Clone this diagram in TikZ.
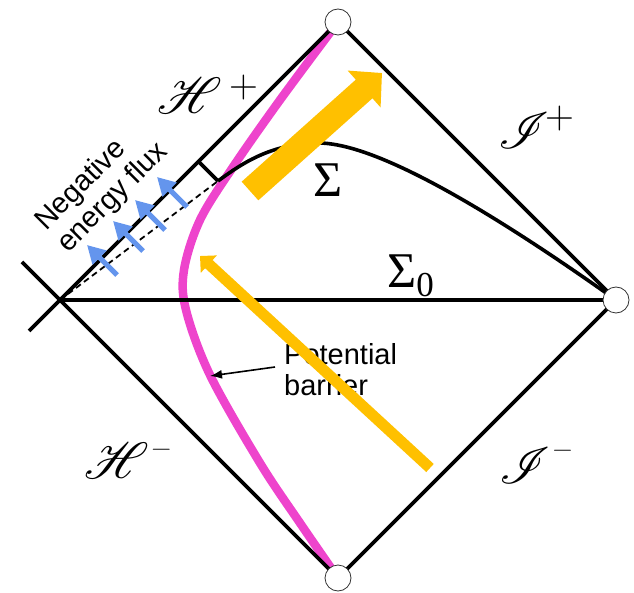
\documentclass[tikz,border=0pt]{standalone}
\usepackage{fontspec}
\usepackage{amsmath,mathrsfs}
\setmainfont{Liberation Sans}
\newfontfamily\greekfont{Liberation Serif}
\newfontfamily\lmfont{Latin Modern Roman}
\DeclareFontFamily{U}{rsfs}{\skewchar\font127 }
\DeclareFontShape{U}{rsfs}{m}{n}{<-6> rsfs5 <6-8> rsfs7 <8-> rsfs10}{}
\usetikzlibrary{arrows.meta,positioning,calc}
\definecolor{PenBarrier}{HTML}{EE44CC}
\definecolor{PenFlux}{HTML}{6495ED}
\definecolor{PenOrange}{HTML}{FFC000}
\definecolor{PenInk}{HTML}{000000}
\newcommand{\futuresign}[2]{\kern#1\raisebox{#2}{\lmfont\fontsize{40}{40}\selectfont +}}
\newcommand{\pastsign}[2]{\kern#1\raisebox{#2}{\lmfont\fontsize{27}{27}\selectfont −}}

\begin{document}
\begin{tikzpicture}[
    x=1pt, y=-1pt,
    edge/.style={draw=PenInk, line width=3.6pt},
    vertex/.style={circle, draw=black!80, line width=0.8pt, fill=white,
      minimum size=26pt, inner sep=0pt},
    barrier/.style={draw=PenBarrier, line width=8.5pt},
    flux/.style={draw=PenFlux, line width=5pt, -{Triangle[length=18pt,width=19pt]}},
    bigflow/.style={draw=PenOrange, line width=25pt, -{Triangle[length=24pt,width=48pt]}},
    smallflow/.style={draw=PenOrange, line width=11pt, -{Triangle[length=12pt,width=23pt]}},
    pointer/.style={-{Latex[length=12pt,width=9pt]}, line width=1.6pt},
    scri/.style={font=\fontsize{51}{51}\selectfont, inner sep=0pt},
    greek/.style={font=\greekfont\fontsize{50}{50}\selectfont, inner sep=0pt},
    sanslabel/.style={font=\fontsize{29}{31}\selectfont, align=left, inner sep=0pt}
  ]
    \useasboundingbox (0,0) rectangle (634,593);

    % corners of the diagram
    \coordinate (top) at (338,22);
    \coordinate (right) at (616,300);
    \coordinate (bottom) at (338,578);
    \coordinate (left) at (60,300);
    \coordinate (hpend) at (29,331);
    \coordinate (hmend) at (22,262);
    \coordinate (corner) at (218,181);
    \coordinate (foot) at (198.5,161.5);
    \coordinate (pb) at (210,376);

    % potential barrier
    \draw[barrier] plot[smooth, tension=0.55] coordinates {(top) (280,100) (233,167)
      (200,220) (184,270) (186,310) (210,375) (260,463) (300,523) (bottom)};

    % boundaries
    \draw[edge] (top) -- (right) -- (bottom);
    \draw[edge] (top) -- (hpend);
    \draw[edge] (bottom) -- (hmend);
    \draw[edge] (left) -- (right);
    \draw[edge] (foot) -- (corner);
    \draw[edge] (corner) .. controls (240,165) and (270,143) .. (320,143)
      .. controls (360,144) and (440,175) .. (right);
    \draw[PenInk, line width=1.8pt, dash pattern=on 6pt off 4pt] (left) -- (corner);

    % labels
    \node[sanslabel, rotate=45] (fluxlabel) at (102,187) {Negative\\energy flux};
    \node[sanslabel, anchor=west] (barrierlabel) at (284,370) {Potential\\barrier};
    \draw[pointer] ([xshift=-9pt,yshift=3pt]barrierlabel.west) -- (pb);

    \node[scri] (hplus) at (208,94) {$\mathscr{H}$\futuresign{8pt}{16pt}};
    \node[scri] (iplus) at (536,127) {$\mathscr{I}$\futuresign{-4pt}{20pt}};
    \node[scri] (hminus) at (128,461) {$\mathscr{H}$\pastsign{2pt}{22pt}};
    \node[scri] (iminus) at (536,466) {$\mathscr{I}$\pastsign{2pt}{26pt}};
    \node[greek, anchor=base west] (sigma) at (313,197) {Σ};
    \node[greek, anchor=base west] (sigmazero) at (387,288)
      {Σ\raisebox{-9pt}{\fontsize{35}{35}\selectfont 0}};

    % flows
    \coordinate (bigtail) at (250,191);
    \coordinate (bigtip) at (382,73);
    \coordinate (smalltail) at (430,468);
    \coordinate (smalltip) at (200,256);
    \draw[bigflow] (bigtail) -- (bigtip);
    \draw[smallflow] (smalltail) -- (smalltip);

    \foreach \i/\x/\y in {1/117/275, 2/143/251, 3/165/230, 4/187/207} {
      \coordinate (flux\i) at (\x,\y);
      \draw[flux] (flux\i) -- ++(-30,-30);
    }

    % endpoints at infinity
    \node[vertex] (topdot) at (top) {};
    \node[vertex] (rightdot) at (right) {};
    \node[vertex] (bottomdot) at (bottom) {};
  \end{tikzpicture}
\end{document}
